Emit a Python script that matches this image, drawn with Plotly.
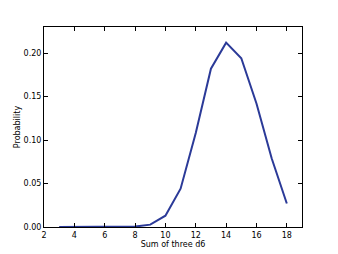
import plotly.graph_objects as go

sums = [3, 4, 5, 6, 7, 8, 9, 10, 11, 12, 13, 14, 15, 16, 17, 18]
probs = [0.0, 0.0, 0.0, 0.0, 0.0, 0.0005, 0.0027, 0.013, 0.044, 0.108,
         0.182, 0.212, 0.194, 0.142, 0.079, 0.027]
x_ticks = [2, 4, 6, 8, 10, 12, 14, 16, 18]
y_ticks = [0.0, 0.05, 0.10, 0.15, 0.20]

fig = go.Figure()
fig.add_trace(go.Scatter(x=sums, y=probs, mode="lines",
                         line=dict(color="#2b3a98", width=2)))

axis_common = dict(showline=True, linecolor="black", linewidth=1, mirror="allticks",
                   ticks="inside", ticklen=4, tickcolor="black", showgrid=False,
                   zeroline=False, automargin=False,
                   tickfont=dict(family="DejaVu Sans", size=8, color="black"))

fig.update_layout(
    width=338, height=254,
    margin=dict(l=44, r=36, t=27, b=27),
    paper_bgcolor="white", plot_bgcolor="white",
    showlegend=False,
    font=dict(family="DejaVu Sans", size=8, color="black"),
    xaxis=dict(range=[2, 19], tickvals=x_ticks, ticktext=[str(v) for v in x_ticks],
               title=dict(text="Sum of three d6", font=dict(size=8), standoff=0),
               **axis_common),
    yaxis=dict(range=[0, 0.23], tickvals=y_ticks, ticktext=[f"{v:.2f}" for v in y_ticks],
               title=dict(text="Probability", font=dict(size=8), standoff=1),
               **axis_common),
)
fig.write_html("out.html")
